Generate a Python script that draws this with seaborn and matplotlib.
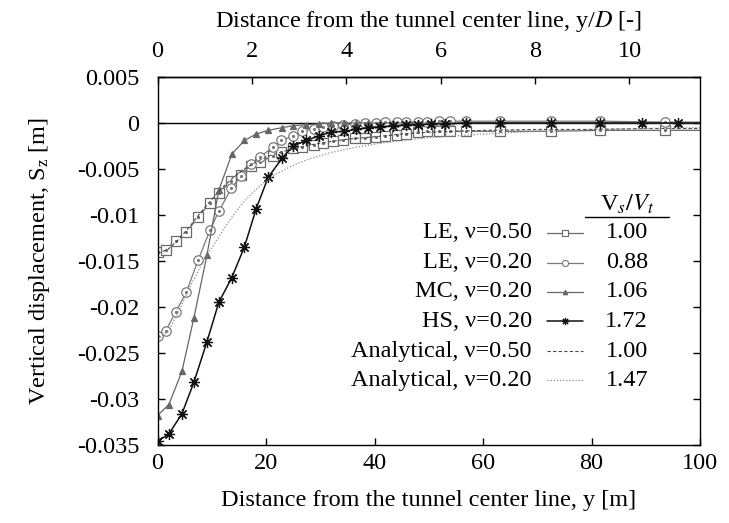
import numpy as np
import pandas as pd
import matplotlib
matplotlib.use("Agg")
import matplotlib.pyplot as plt
import seaborn as sns
from matplotlib.lines import Line2D

# ---------------- data ----------------
D = 8.7  # tunnel diameter [m] for the top axis (y/D)

nodes_le = [0, 1.5, 3.4, 5.3, 7.5, 9.7, 11.3, 13.6, 15.3, 17.3, 18.9, 21.3, 22.8, 25.0,
            26.7, 28.9, 30.5, 32.4, 34.2, 36.4, 38.3, 40.3, 42.0, 44.2, 45.8, 48.1,
            49.7, 51.9, 54.0, 56.9, 63.2, 72.6, 81.6, 93.6, 100]
le50_y = [-0.0140, -0.0138, -0.0128, -0.0119, -0.0102, -0.0087, -0.0076, -0.0063,
          -0.0057, -0.0047, -0.0042, -0.0036, -0.0032, -0.0027, -0.0026, -0.0024,
          -0.0022, -0.0020, -0.0019, -0.0016, -0.0016, -0.0015, -0.0014, -0.0013,
          -0.0012, -0.0010, -0.0009, -0.0009, -0.0009, -0.0009, -0.0009, -0.0009,
          -0.0008, -0.0008, -0.0008]
le20_y = [-0.0231, -0.0226, -0.0205, -0.0184, -0.0149, -0.0116, -0.0096, -0.0071,
          -0.0058, -0.0045, -0.0037, -0.0026, -0.0019, -0.0014, -0.0009, -0.0006,
          -0.0004, -0.0003, -0.0002, -0.0001, 0.0000, 0.0000, 0.0001, 0.0001,
          0.0001, 0.0001, 0.0001, 0.0002, 0.0002, 0.0002, 0.0002, 0.0002,
          0.0002, 0.0001, 0.0001]

nodes_np = [0, 2.1, 4.5, 6.7, 9.1, 11.3, 13.7, 16.0, 18.2, 20.4, 23.0, 25.0, 27.4,
            29.8, 32.0, 34.4, 36.6, 38.8, 41.0, 43.5, 45.8, 48.1, 50.5, 53.0, 56.9,
            63.2, 72.6, 81.6, 89.4, 96.0, 100]
mc_y = [-0.0318, -0.0306, -0.0270, -0.0212, -0.0144, -0.0073, -0.0034, -0.0019,
        -0.0012, -0.0008, -0.0005, -0.0003, -0.0002, -0.0001, 0.0000, 0.0000,
        0.0000, 0.0000, 0.0000, 0.0000, 0.0000, 0.0000, 0.0000, 0.0000, 0.0000,
        0.0000, 0.0000, 0.0000, 0.0000, 0.0000, 0.0000]
hs_y = [-0.0346, -0.0338, -0.0316, -0.0282, -0.0238, -0.0195, -0.0168, -0.0135,
        -0.0093, -0.0059, -0.0038, -0.0025, -0.0019, -0.0014, -0.0010, -0.0009,
        -0.0007, -0.0005, -0.0004, -0.0003, -0.0002, -0.0002, -0.0001, -0.0001,
        0.0000, 0.0000, 0.0000, 0.0000, 0.0000, 0.0000, 0.0000]

ana_x = [0, 2, 4, 6, 8, 10, 12, 14, 16, 18, 20, 22, 25, 28, 32, 36, 40, 45, 50, 60,
         70, 80, 90, 100]
ana50_y = [-0.0142, -0.0137, -0.0126, -0.0112, -0.0097, -0.0083, -0.0070, -0.0059,
           -0.0050, -0.0043, -0.0037, -0.0033, -0.0028, -0.0024, -0.0020, -0.0017,
           -0.0015, -0.0012, -0.0010, -0.0008, -0.0007, -0.0007, -0.0006, -0.0006]
ana20_y = [-0.0235, -0.0226, -0.0204, -0.0178, -0.0155, -0.0136, -0.0117, -0.0100,
           -0.0085, -0.0073, -0.0063, -0.0055, -0.0046, -0.0039, -0.0032, -0.0027,
           -0.0023, -0.0019, -0.0016, -0.0012, -0.0009, -0.0007, -0.0006, -0.0005]

legend_labels = ["LE, ν=0.50", "LE, ν=0.20", "MC, ν=0.20", "HS, ν=0.20",
                 "Analytical, ν=0.50", "Analytical, ν=0.20"]
vs_vt = ["1.00", "0.88", "1.06", "1.72", "1.00", "1.47"]
top_ticks = [0, 2, 4, 6, 8, 10]
bottom_ticks = [0, 20, 40, 60, 80, 100]

# ---------------- style ----------------
sns.set_theme(style="white")
plt.rcParams.update({
    "font.family": ["Liberation Serif", "DejaVu Serif"],
    "mathtext.fontset": "stix",
    "axes.unicode_minus": False,
    "axes.edgecolor": "black",
    "axes.linewidth": 1.0,
    "xtick.color": "black",
    "ytick.color": "black",
    "text.color": "black",
    "axes.labelcolor": "black",
})
FS = 17.5

fig = plt.figure(figsize=(7.29, 5.23), dpi=100)
ax = fig.add_axes([157.5 / 729, 78 / 523, 542.5 / 729, 368 / 523])

ax.axhline(0, color="black", lw=1.0, zorder=1)

styles = [
    dict(x=nodes_le, y=le50_y, color="#6a6a6a", ls="-", marker="s", ms=6.6, mfc="white", lw=0.9, dot=True),
    dict(x=nodes_le, y=le20_y, color="#7a7a7a", ls="-", marker="o", ms=6.8, mfc="white", lw=0.9, dot=True),
    dict(x=nodes_np, y=mc_y, color="#666666", ls="-", marker="^", ms=5, mfc="#666666", lw=0.9, dot=False),
    dict(x=nodes_np, y=hs_y, color="#111111", ls="-", marker=(8, 2, 0), ms=8, mfc="#111111", lw=1.1, dot=False),
    dict(x=ana_x, y=ana50_y, color="#4a4a4a", ls=(0, (3, 2)), marker=None, ms=0, mfc="none", lw=0.8, dot=False),
    dict(x=ana_x, y=ana20_y, color="#8a8a8a", ls=(0, (1, 1.5)), marker=None, ms=0, mfc="none", lw=0.9, dot=False),
]

for s in styles:
    kw = dict(color=s["color"], lw=s["lw"], linestyle=s["ls"])
    if s["marker"] is not None:
        n = len(s["x"])
        kw.update(marker=s["marker"], markersize=s["ms"], markerfacecolor=s["mfc"],
                  markeredgecolor=s["color"], markeredgewidth=0.9,
                  markevery=list(range(n - 1)))
    sns.lineplot(x=s["x"], y=s["y"], ax=ax, estimator=None, sort=False, **kw)
    if s["dot"]:
        ax.plot(s["x"][:-1], s["y"][:-1], ls="none", marker="o", ms=1.3, color=s["color"])

ax.set_xlim(0, 100)
ax.set_ylim(-0.035, 0.005)
ax.set_xticks(bottom_ticks)
ax.set_yticks(np.arange(-0.035, 0.0051, 0.005))
ax.yaxis.set_major_formatter(matplotlib.ticker.FuncFormatter(lambda v, p: "%g" % round(v, 4)))
ax.tick_params(axis="y", which="both", direction="in", length=5, width=1, left=True, right=True,
               pad=13, labelsize=FS)
ax.tick_params(axis="x", which="both", direction="in", length=5, width=1, bottom=True, top=False,
               pad=6, labelsize=FS)
ax.set_xlabel("Distance from the tunnel center line, y [m]", fontsize=FS, labelpad=11)
ax.set_ylabel("Vertical displacement, S$_\\mathregular{z}$ [m]", fontsize=FS, labelpad=18)

sec = ax.secondary_xaxis("top", functions=(lambda v: v / D, lambda v: v * D))
sec.set_xticks(top_ticks)
sec.tick_params(direction="in", length=5, width=1, pad=11, labelsize=FS)
sec.set_xlabel("Distance from the tunnel center line, y/$D$ [-]", fontsize=FS, labelpad=10)

# ---------------- legend (manual table) ----------------
row_y = [0.5761, 0.4959, 0.4158, 0.3356, 0.2554, 0.1753]
x_lab, x_l0, x_l1, x_val = 0.690, 0.7174, 0.7838, 0.8649
for s, lab, val, fy in zip(styles, legend_labels, vs_vt, row_y):
    ax.text(x_lab, fy, lab, ha="right", va="center", fontsize=FS, transform=ax.transAxes)
    ax.add_line(Line2D([x_l0, x_l1], [fy, fy], transform=ax.transAxes, color=s["color"],
                       lw=s["lw"], linestyle=s["ls"]))
    if s["marker"] is not None:
        ax.add_line(Line2D([(x_l0 + x_l1) / 2], [fy], transform=ax.transAxes, ls="none",
                           marker=s["marker"], markersize=s["ms"] * 0.65, markerfacecolor=s["mfc"],
                           markeredgecolor=s["color"], markeredgewidth=0.8))
    ax.text(x_val, fy, val, ha="center", va="center", fontsize=FS, transform=ax.transAxes)
ax.text(x_val, 0.655, r"V$_s/V_t$", ha="center", va="center", fontsize=FS, transform=ax.transAxes)
ax.add_line(Line2D([0.788, 0.943], [0.6196, 0.6196], transform=ax.transAxes, color="black", lw=1.0))

fig.savefig("out.png", dpi=100)
